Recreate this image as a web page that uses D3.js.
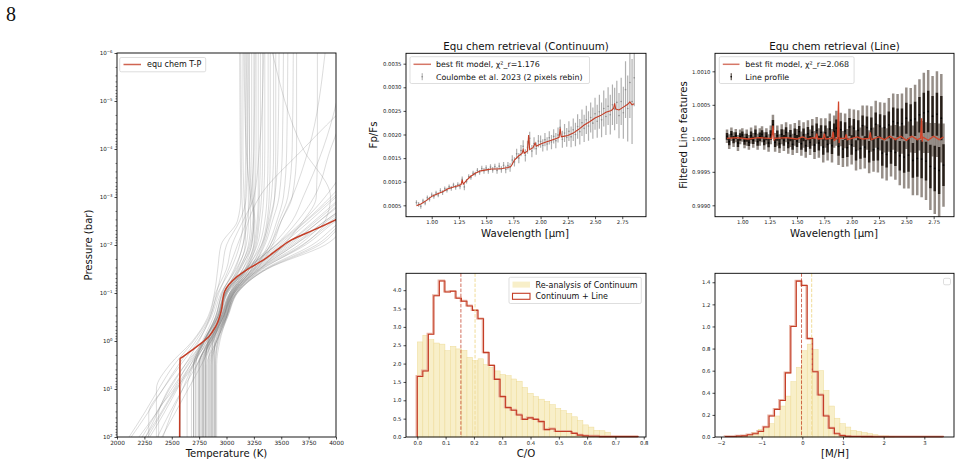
<!DOCTYPE html>
<html><head><meta charset="utf-8">
<script src="https://cdn.jsdelivr.net/npm/d3@7/dist/d3.min.js"></script>
<style>
body{margin:0;background:#fff;}
svg{display:block;}
</style></head><body>
<svg id="chart" width="961" height="466"></svg>
<script>
// ================= DATA =================
// T-P panel: sampled profiles, temperatures (K) at log10 pressure levels (bar)
const tpLogP = [-6,-4,-3,-2.5,-2,-1.5,-1,-0.5,0,0.5,1,1.5,2];
const tpSamples = [
 [3130,3135,3140,3150,3120,3040,2920,2850,2750,2620,2480,2360,2230],
 [3150,3150,3160,3170,3150,3070,2960,2900,2800,2700,2640,2640,2640],
 [3170,3175,3170,3175,3170,3100,2990,2940,2860,2780,2780,2780,2780],
 [3190,3190,3200,3200,3180,3090,2950,2880,2780,2670,2550,2430,2300],
 [3210,3210,3215,3220,3200,3120,3000,2950,2880,2830,2830,2830,2830],
 [3230,3230,3240,3250,3230,3150,3030,2980,2910,2860,2860,2860,2860],
 [3250,3250,3250,3240,3210,3110,2970,2900,2800,2720,2720,2720,2720],
 [3270,3270,3260,3250,3220,3130,2990,2920,2830,2750,2750,2750,2750],
 [3290,3290,3290,3280,3250,3170,3040,2980,2900,2880,2880,2880,2880],
 [3310,3310,3300,3290,3260,3180,3050,2990,2920,2900,2900,2900,2900],
 [3330,3330,3320,3300,3270,3190,3060,3000,2940,2910,2910,2910,2910],
 [3350,3350,3340,3320,3280,3170,3010,2940,2840,2800,2800,2800,2800],
 [3380,3380,3370,3350,3300,3190,3040,2970,2870,2810,2810,2810,2810],
 [3400,3400,3390,3370,3320,3210,3060,2990,2900,2840,2840,2840,2840],
 [3430,3430,3410,3380,3330,3210,3050,2970,2860,2770,2770,2770,2770],
 [3450,3450,3440,3400,3340,3230,3070,3000,2910,2870,2870,2870,2870],
 [3480,3470,3440,3390,3320,3180,3030,2960,2840,2730,2680,2680,2680],
 [3520,3510,3480,3420,3350,3230,3070,3000,2920,2890,2890,2890,2890],
 [3560,3550,3520,3460,3380,3250,3080,3000,2910,2850,2850,2850,2850],
 [3610,3600,3560,3480,3400,3260,3090,3010,2930,2900,2900,2900,2900],
 [3640,3640,3600,3500,3400,3240,3060,2970,2870,2790,2790,2790,2790],
 [3830,3830,3820,3700,3520,3310,3100,3010,2910,2820,2820,2820,2820],
 [3160,3180,3220,3250,3230,3120,2980,2910,2790,2620,2470,2370,2260],
 [3200,3210,3230,3260,3250,3150,3000,2930,2820,2690,2540,2410,2280],
 [3260,3250,3220,3180,3100,3020,2930,2860,2740,2580,2420,2280,2130],
 [3340,3300,3250,3150,3050,3000,2900,2840,2700,2520,2380,2250,2110],
 [3120,3125,3130,3100,2950,2920,2890,2830,2690,2480,2360,2360,2360],
 [3180,3190,3180,3120,3000,2960,2910,2850,2720,2560,2420,2290,2290],
 [5200,4900,4300,3950,3700,3330,3070,2970,2840,2700,2700,2700,2700],
 [5400,5000,4400,4050,3780,3350,3080,2980,2860,2760,2760,2760,2760],
 [5000,4700,4200,3900,3620,3290,3050,2950,2820,2700,2580,2580,2580],
 [5600,5200,4500,4100,3850,3370,3090,2990,2860,2740,2740,2740,2740],
 [4900,4600,4100,3850,3580,3270,3040,2950,2840,2730,2600,2480,2370],
 [5300,4900,4350,4000,3720,3320,3070,2970,2850,2780,2780,2780,2780],
 [4800,4500,4050,3800,3540,3240,3030,2950,2830,2810,2810,2810,2810],
 [5100,4800,4250,3920,3660,3300,3060,2960,2840,2840,2840,2840,2840],
 [4700,4450,4000,3760,3500,3220,3010,2930,2810,2670,2530,2400,2260],
 [5500,5100,4450,4080,3820,3360,3090,2990,2880,2860,2860,2860,2860],
 [4600,4400,3980,3730,3480,3200,3000,2920,2800,2650,2500,2360,2200],
 [5250,4850,4320,3980,3690,3310,3070,2980,2870,2870,2870,2870,2870],
 [4500,4300,3950,3720,3460,3190,2990,2920,2790,2640,2520,2380,2380],
 [5700,5300,4600,4150,3900,3370,3100,3000,2890,2890,2890,2890,2890],
 [4400,4250,4100,3850,3560,3260,3040,2960,2850,2790,2790,2790,2790],
 [4300,4200,4050,3820,3540,3250,3030,2950,2830,2810,2810,2810,2810],
 [4250,4150,3900,3700,3450,3180,2990,2920,2790,2720,2720,2720,2720],
 [5050,4750,4220,3900,3600,3280,3050,2960,2840,2750,2750,2750,2750],
 [4300,3950,3800,3650,3450,3190,3000,2920,2800,2700,2700,2700,2700],
 [4100,3880,3700,3600,3420,3170,2990,2910,2790,2690,2600,2500,2420],
 [4600,3700,3300,3200,3150,3080,2960,2900,2790,2700,2700,2700,2700],
 [3420,3700,3950,3900,3620,3300,3060,2970,2850,2750,2750,2750,2750],
 [3900,3750,3600,3500,3420,3280,3090,3000,2880,2770,2650,2530,2410]
];
const tpBestLogP = [-3,-2.53,-2.31,-2.1,-1.9,-1.69,-1.51,-1.34,-1.17,-1.03,-0.89,-0.71,-0.51,-0.3,-0.09,0.05,0.19,0.33,0.37,1,2];
const tpBestT    = [4400,4000,3793,3589,3461,3339,3202,3096,3020,2983,2968,2959,2938,2901,2837,2767,2685,2600,2576,2573,2572];
const tpXTicks = [2000,2250,2500,2750,3000,3250,3500,3750,4000];
const tpYTicks = [1e-6,1e-5,1e-4,1e-3,1e-2,1e-1,1,10,100];

// Continuum panel (Fp/Fs in units of 1e-4)
const contWave = [0.86,0.88,0.90,0.92,0.94,0.96,0.98,1.00,1.02,1.04,1.06,1.08,1.10,1.12,1.14,1.16,1.18,1.20,1.22,1.24,
 1.26,1.28,1.30,1.32,1.34,1.36,1.38,1.40,1.42,1.44,1.46,1.48,1.50,1.52,1.54,1.56,1.58,1.60,1.62,1.64,
 1.66,1.68,1.70,1.72,1.74,1.76,1.78,1.80,1.82,1.84,1.86,1.88,1.90,1.92,1.94,1.96,1.98,2.00,2.02,2.04,
 2.06,2.08,2.10,2.12,2.14,2.16,2.18,2.20,2.22,2.24,2.26,2.28,2.30,2.32,2.34,2.36,2.38,2.40,2.42,2.44,
 2.46,2.48,2.50,2.52,2.54,2.56,2.58,2.60,2.62,2.64,2.66,2.68,2.70,2.72,2.74,2.76,2.78,2.80,2.82,2.84,2.86];
const contFlux = [5.6,5.2,4.8,5.9,5.5,6.6,6.3,7.2,6.9,7.6,7.2,8.1,7.7,8.5,8.2,8.9,8.6,9.3,8.8,9.4,
 9.0,10.5,8.9,10.1,11.1,10.9,11.8,11.6,12.4,12.0,12.8,12.3,12.9,12.3,13.1,12.5,13.2,12.4,13.3,12.6,
 13.5,12.6,13.4,13.0,14.6,14.2,15.9,15.0,16.6,17.5,15.6,17.3,19.2,16.5,18.1,17.0,18.6,18.5,17.7,18.9,
 18.0,19.3,18.4,19.6,18.7,19.9,21.5,19.0,20.3,19.4,20.7,19.5,21.0,20.0,21.7,20.6,22.5,21.3,23.1,21.8,
 23.6,22.4,24.4,22.8,24.8,23.1,25.5,23.8,26.0,24.2,26.3,25.4,26.8,24.0,27.0,24.6,29.5,25.5,31.0,27.0,32.0];
const contErr = [0.5,0.5,0.5,0.5,0.5,0.5,0.5,0.5,0.5,0.5,0.5,0.5,0.5,0.5,0.5,0.5,0.5,0.5,0.5,0.5,
 0.6,0.6,0.7,0.5,0.5,0.5,0.5,0.5,0.5,0.5,0.6,0.6,0.6,0.6,0.6,0.6,0.6,0.7,0.7,0.7,
 0.7,0.8,0.8,0.9,1.0,1.0,1.1,1.1,1.2,1.3,1.3,1.4,1.4,1.3,1.3,1.3,1.3,1.3,1.3,1.4,
 1.4,1.4,1.5,1.5,1.6,1.6,1.7,1.8,1.9,2.0,2.1,2.2,2.4,2.5,2.6,2.7,2.8,2.9,3.0,3.1,
 3.2,3.3,3.4,3.5,3.6,3.7,3.8,3.9,4.0,4.2,4.3,4.5,4.6,4.8,5.0,5.5,6.0,7.0,7.5,9.0,6.0];
const contModelWave = [0.86,0.90,0.95,1.00,1.05,1.10,1.15,1.20,1.25,1.27,1.28,1.29,1.32,1.35,1.40,1.45,1.50,1.55,1.60,1.65,
 1.70,1.73,1.76,1.80,1.83,1.84,1.85,1.88,1.89,1.90,1.93,1.95,1.96,2.00,2.05,2.10,2.15,2.17,2.18,2.19,
 2.21,2.25,2.30,2.35,2.40,2.45,2.50,2.55,2.60,2.65,2.67,2.68,2.69,2.72,2.76,2.80,2.82,2.84,2.86];
const contModelFlux = [4.9,5.3,6.0,6.9,7.4,7.9,8.5,8.9,9.2,9.4,10.4,9.5,10.3,11.0,11.8,12.3,12.5,12.7,12.7,12.8,
 13.0,13.3,14.6,15.5,16.0,16.8,16.0,16.5,19.9,16.8,17.2,18.2,17.5,18.0,18.4,18.8,19.2,19.4,21.3,19.5,
 19.6,19.8,20.3,21.1,22.0,22.7,23.5,24.0,24.7,25.1,25.5,26.6,25.4,25.2,25.8,26.4,26.9,26.3,26.5];
const contXTicks = [1.00,1.25,1.50,1.75,2.00,2.25,2.50,2.75];
const contYTicks = [5,10,15,20,25,30,35];

// Line panel (filtered line features, residual from 1 in units of 1e-5)
const lineWave = [0.86,0.88,0.90,0.92,0.94,0.96,0.98,1.00,1.02,1.04,1.06,1.08,1.10,1.12,1.14,1.16,1.18,1.20,1.22,1.24,
 1.26,1.28,1.30,1.32,1.34,1.36,1.38,1.40,1.42,1.44,1.46,1.48,1.50,1.52,1.54,1.56,1.58,1.60,1.62,1.64,
 1.66,1.68,1.70,1.72,1.74,1.76,1.78,1.80,1.82,1.84,1.86,1.88,1.90,1.92,1.94,1.96,1.98,2.00,2.02,2.04,
 2.06,2.08,2.10,2.12,2.14,2.16,2.18,2.20,2.22,2.24,2.26,2.28,2.30,2.32,2.34,2.36,2.38,2.40,2.42,2.44,
 2.46,2.48,2.50,2.52,2.54,2.56,2.58,2.60,2.62,2.64,2.66,2.68,2.70,2.72,2.74,2.76,2.78,2.80,2.82,2.84];
const lineRes = [3,-5,6,-2,4,-7,2,5,-4,1, -6,4,-3,7,-5,2,6,-4,3,-7,
 5,20,-6,4,-8,6,-3,9,-7,4, -9,6,-4,10,-8,5,-11,7,-6,9,
 -10,12,-7,9,-13,8,-9,14,-11,10, 15,-12,13,-16,11,-14,17,-10,15,-18,
 12,-15,19,-13,16,-20,14,-17,21,-15, 18,-22,16,-24,20,-19,25,-21,23,-26,
 22,-28,30,-25,27,-33,29,-30,35,-31, 38,-34,40,-42,33,-45,36,-48,30,-40];
const lineErr = [10,11,10,11,10,12,11,10,11,12, 11,12,11,12,12,13,12,13,12,13,
 14,15,14,15,14,15,16,15,16,17, 16,17,18,17,18,19,18,20,19,20,
 21,20,22,21,23,22,24,23,25,24, 26,28,25,27,26,28,27,29,28,30,
 30,31,30,32,33,32,34,33,35,36, 36,38,37,39,40,38,42,41,43,44,
 45,47,46,50,48,52,51,55,53,57, 60,58,62,65,60,68,64,70,66,62];
const lineModelWave = [0.86,0.95,1.05,1.15,1.25,1.27,1.28,1.29,1.30,1.40,1.50,1.55,1.60,1.65,1.67,1.68,1.69,1.74,1.75,1.76,
 1.82,1.83,1.84,1.87,1.88,1.885,1.89,1.94,1.95,1.96,2.05,2.10,2.16,2.17,2.18,2.25,2.30,2.35,2.40,2.45,
 2.50,2.55,2.60,2.63,2.64,2.645,2.65,2.70,2.75,2.80,2.84];
const lineModelRes = [0,1,-1,1,0,0,19,-2,0,1,-1,2,-1,1,0,7,-1,0,7,-1,
 0,10,-3,0,55,-7,0,0,6,-2,2,-1,0,9,-2,2,-2,3,-2,3,
 -3,3,-2,0,30,-5,2,-3,3,-2,2];
const lineXTicks = [1.00,1.25,1.50,1.75,2.00,2.25,2.50,2.75];
const lineYTicks = [-100,-50,0,50,100];

// C/O histograms (density)
const coEdges = [0,0.0195,0.039,0.0585,0.078,0.0975,0.117,0.1365,0.156,0.1755,0.195,0.2145,0.234,0.2535,0.273,0.2925,0.312,0.3315,0.351,0.3705,
 0.39,0.4095,0.429,0.4485,0.468,0.4875,0.507,0.5265,0.546,0.5655,0.585,0.6045,0.624,0.6435,0.663,0.6825,0.702,0.7215,0.741,0.7605,0.78];
const coContinuum = [2.59,2.77,2.65,2.56,2.53,2.35,2.47,2.40,2.36,2.17,2.08,2.13,1.97,1.90,1.80,1.70,1.67,1.58,1.52,1.35,
 1.19,1.10,1.03,0.97,0.88,0.78,0.72,0.64,0.55,0.45,0.33,0.27,0.18,0.17,0.13,0.02,0,0,0,0];
const coLine = [1.65,1.80,2.80,3.85,4.25,3.95,3.97,3.78,3.70,3.57,3.45,3.22,2.30,1.95,1.57,1.10,0.80,0.73,0.60,0.48,
 0.52,0.48,0.42,0.20,0.22,0.15,0.15,0.15,0.10,0.05,0.03,0.02,0.02,0.01,0.01,0.01,0.01,0.01,0.01,0.01];
const coMedians = {line:0.154, continuum:0.204};
const coXTicks = [0,0.1,0.2,0.3,0.4,0.5,0.6,0.7,0.8];
const coYTicks = [0,0.5,1,1.5,2,2.5,3,3.5,4];

// [M/H] histograms (density)
const mhEdges = [-1.89,-1.756,-1.622,-1.488,-1.354,-1.22,-1.086,-0.952,-0.818,-0.684,-0.55,-0.416,-0.282,-0.148,-0.014,0.12,0.254,0.388,0.522,0.656,
 0.79,0.924,1.058,1.192,1.326,1.46,1.594,1.728,1.862,1.996,2.13,2.264,2.398,2.532,2.666,2.8,2.934,3.068,3.202,3.336,3.47];
const mhContinuum = [0,0,0.005,0.01,0.02,0.04,0.07,0.08,0.12,0.19,0.28,0.37,0.50,0.63,0.78,0.84,0.79,0.60,0.42,0.28,
 0.17,0.12,0.09,0.06,0.05,0.04,0.03,0.02,0.01,0.01,0.005,0,0,0,0,0,0,0,0,0];
const mhLine = [0.004,0.004,0.008,0.01,0.02,0.03,0.05,0.09,0.19,0.25,0.33,0.58,1.00,1.41,1.37,0.89,0.59,0.38,0.19,0.08,
 0.03,0.012,0.006,0.004,0.004,0.003,0.003,0.002,0.002,0.002,0.002,0.002,0.002,0.002,0.002,0.002,0.002,0.002,0.002,0.002];
const mhMedians = {line:-0.02, continuum:0.23};
const mhXTicks = [-2,-1,0,1,2,3];
const mhYTicks = [0,0.2,0.4,0.6,0.8,1.0,1.2,1.4];

// ================= DRAWING =================
const FONT = '"DejaVu Sans", Verdana, sans-serif';
const RED = '#c43d26';
const YEL = '#f8efc9';
const YEL_EDGE = '#eedb97';
const YEL_DASH = '#f1dc99';
const svg = d3.select('#chart');

svg.append('text').attr('x',6).attr('y',21).attr('font-family','"Liberation Serif", "DejaVu Serif", serif')
  .attr('font-size','20px').attr('fill','#111').text('8');

function frame(p){
  svg.append('rect').attr('x',p.x0).attr('y',p.y0).attr('width',p.x1-p.x0).attr('height',p.y1-p.y0)
    .attr('fill','none').attr('stroke','#000').attr('stroke-width',0.9);
}
function styleAxis(g, fs){
  g.select('.domain').remove();
  g.selectAll('.tick line').attr('stroke','#000').attr('stroke-width',0.7);
  g.selectAll('.tick text').attr('font-size',fs+'px').attr('fill','#222').attr('font-family',FONT);
}
function xAxis(p, x, ticks, fmt, fs){
  const g = svg.append('g').attr('transform',`translate(0,${p.y1})`)
    .call(d3.axisBottom(x).tickValues(ticks).tickFormat(fmt).tickSize(2.5).tickSizeOuter(0).tickPadding(1.5));
  styleAxis(g, fs); return g;
}
function yAxis(p, y, ticks, fmt, fs){
  const g = svg.append('g').attr('transform',`translate(${p.x0},0)`)
    .call(d3.axisLeft(y).tickValues(ticks).tickFormat(fmt).tickSize(2.5).tickSizeOuter(0).tickPadding(2));
  styleAxis(g, fs); return g;
}
function label(x, y, txt, fs, rot){
  const t = svg.append('text').attr('x',x).attr('y',y).attr('text-anchor','middle')
    .attr('font-family',FONT).attr('font-size',fs+'px').attr('fill','#111').text(txt);
  if(rot) t.attr('transform',`rotate(-90,${x},${y})`);
  return t;
}
function clip(id, p){
  svg.append('clipPath').attr('id',id).append('rect')
    .attr('x',p.x0).attr('y',p.y0).attr('width',p.x1-p.x0).attr('height',p.y1-p.y0);
}
const fmtMinus = d => (d<0?'\u2212':'') + Math.abs(d);

// ---------- Panel 1: T-P ----------
const pTP = {x0:117,x1:336,y0:53,y1:437};
const xT = d3.scaleLinear().domain([2000,4000]).range([pTP.x0,pTP.x1]);
const yP = d3.scaleLog().domain([1e-6,1e2]).range([pTP.y0,pTP.y1]);
clip('cTP', pTP);
const gTP = svg.append('g').attr('clip-path','url(#cTP)');
const lineTP = d3.line().x(d=>xT(d[1])).y(d=>yP(Math.pow(10,d[0]))).curve(d3.curveMonotoneY);
tpSamples.forEach(row=>{
  gTP.append('path').attr('d', lineTP(tpLogP.map((lp,i)=>[lp,row[i]])))
    .attr('fill','none').attr('stroke','#7f7f7f').attr('stroke-opacity',0.3).attr('stroke-width',0.9);
});
gTP.append('path').attr('d', lineTP(tpBestLogP.map((lp,i)=>[lp,tpBestT[i]])))
  .attr('fill','none').attr('stroke',RED).attr('stroke-width',1.5);
frame(pTP);
xAxis(pTP, xT, tpXTicks, d=>d, 5.8);
const gy = yAxis(pTP, yP, tpYTicks, d=>'', 5.6);
gy.selectAll('.tick text').each(function(d){
  const e = Math.round(Math.log10(d));
  const t = d3.select(this);
  t.text(null);
  t.append('tspan').text('10');
  t.append('tspan').attr('dy',-2.3).attr('font-size','3.9px').text(e<0?'\u2212'+(-e):String(e));
});
for(let k=-6;k<2;k++){ for(let m=2;m<10;m++){
  const v = m*Math.pow(10,k);
  svg.append('line').attr('x1',pTP.x0-1.5).attr('x2',pTP.x0).attr('y1',yP(v)).attr('y2',yP(v))
    .attr('stroke','#000').attr('stroke-width',0.5);
}}
label(92, 245, 'Pressure (bar)', 10.1, true);
label(226.5, 456.5, 'Temperature (K)', 10.1, false);
// legend
svg.append('rect').attr('x',119.7).attr('y',57.5).attr('width',86).attr('height',14.3).attr('rx',1.5)
  .attr('fill','#fff').attr('fill-opacity',0.85).attr('stroke','#d0d0d0').attr('stroke-width',0.7);
svg.append('line').attr('x1',123.5).attr('x2',141).attr('y1',64.5).attr('y2',64.5)
  .attr('stroke',RED).attr('stroke-opacity',0.8).attr('stroke-width',1.5);
svg.append('text').attr('x',147).attr('y',67.4).attr('font-family',FONT).attr('font-size','8px').attr('fill','#111').text('equ chem T-P');

// ---------- Panel 2: Continuum spectrum ----------
const pC = {x0:406,x1:646,y0:53.3,y1:216.7};
const xC = d3.scaleLinear().domain([0.764,2.968]).range([pC.x0,pC.x1]);
const yC = d3.scaleLinear().domain([2.59,37.2]).range([pC.y1,pC.y0]);
clip('cC', pC);
const gC = svg.append('g').attr('clip-path','url(#cC)');
contWave.forEach((w,i)=>{
  gC.append('line').attr('x1',xC(w)).attr('x2',xC(w))
    .attr('y1',yC(contFlux[i]-contErr[i])).attr('y2',yC(contFlux[i]+contErr[i]))
    .attr('stroke','#b0b0b0').attr('stroke-width',1.2);
});
contWave.forEach((w,i)=>{
  gC.append('circle').attr('cx',xC(w)).attr('cy',yC(contFlux[i])).attr('r',0.8).attr('fill','#8c8c8c');
});
gC.append('path').attr('d', d3.line().x((d,i)=>xC(contModelWave[i])).y(d=>yC(d))(contModelFlux))
  .attr('fill','none').attr('stroke',RED).attr('stroke-width',1.1);
frame(pC);
xAxis(pC, xC, contXTicks, d3.format('.2f'), 5.3);
yAxis(pC, yC, contYTicks, d=>(d*1e-4).toFixed(4), 5.3);
label(526, 49.5, 'Equ chem retrieval (Continuum)', 10.3, false);
label(525, 237, 'Wavelength [\u03bcm]', 10.2, false);
label(377, 135, 'Fp/Fs', 10.2, true);
svg.append('rect').attr('x',410).attr('y',56.7).attr('width',179.5).attr('height',26.8).attr('rx',1.5)
  .attr('fill','#fff').attr('fill-opacity',0.85).attr('stroke','#d0d0d0').attr('stroke-width',0.7);
svg.append('line').attr('x1',413.5).attr('x2',431).attr('y1',64.3).attr('y2',64.3)
  .attr('stroke',RED).attr('stroke-opacity',0.7).attr('stroke-width',1.5);
svg.append('text').attr('x',436).attr('y',67.2).attr('font-family',FONT).attr('font-size','7.9px').attr('fill','#111').text('best fit model, \u03c7\u00b2_r=1.176');
svg.append('line').attr('x1',422.2).attr('x2',422.2).attr('y1',73.2).attr('y2',80.2).attr('stroke','#a8a8a8').attr('stroke-width',1);
svg.append('circle').attr('cx',422.2).attr('cy',76.7).attr('r',0.8).attr('fill','#8c8c8c');
svg.append('text').attr('x',436).attr('y',79.6).attr('font-family',FONT).attr('font-size','7.9px').attr('fill','#111').text('Coulombe et al. 2023 (2 pixels rebin)');

// ---------- Panel 3: Line spectrum ----------
const pL = {x0:715,x1:954,y0:53.3,y1:216.7};
const xL = d3.scaleLinear().domain([0.750,2.936]).range([pL.x0,pL.x1]);
const yL = d3.scaleLinear().domain([-117,126.9]).range([pL.y1,pL.y0]);
clip('cL', pL);
const gL = svg.append('g').attr('clip-path','url(#cL)');
lineWave.forEach((w,i)=>{
  gL.append('line').attr('x1',xL(w)).attr('x2',xL(w))
    .attr('y1',yL(lineRes[i]-lineErr[i])).attr('y2',yL(lineRes[i]+lineErr[i]))
    .attr('stroke','#6a5e55').attr('stroke-opacity',0.7).attr('stroke-width',2.5);
});
lineWave.forEach((w,i)=>{
  gL.append('line').attr('x1',xL(w)).attr('x2',xL(w))
    .attr('y1',yL(lineRes[i]-lineErr[i]*0.5)).attr('y2',yL(lineRes[i]+lineErr[i]*0.5))
    .attr('stroke','#1a120c').attr('stroke-opacity',0.9).attr('stroke-width',2.4);
  gL.append('circle').attr('cx',xL(w)).attr('cy',yL(lineRes[i])).attr('r',0.9).attr('fill','#000');
});
gL.append('path').attr('d', d3.line().x((d,i)=>xL(lineModelWave[i])).y(d=>yL(d))(lineModelRes))
  .attr('fill','none').attr('stroke','#d2452a').attr('stroke-width',1.3);
frame(pL);
xAxis(pL, xL, lineXTicks, d3.format('.2f'), 5.3);
yAxis(pL, yL, lineYTicks, d=>(1+d*1e-5).toFixed(4), 5.3);
label(834.5, 49.5, 'Equ chem retrieval (Line)', 10.3, false);
label(834, 237, 'Wavelength [\u03bcm]', 10.2, false);
label(686.5, 135, 'Filtered Line features', 10.2, true);
svg.append('rect').attr('x',719.3).attr('y',56.7).attr('width',134.8).attr('height',26.8).attr('rx',1.5)
  .attr('fill','#fff').attr('fill-opacity',0.85).attr('stroke','#d0d0d0').attr('stroke-width',0.7);
svg.append('line').attr('x1',722.8).attr('x2',739.5).attr('y1',64.3).attr('y2',64.3)
  .attr('stroke',RED).attr('stroke-opacity',0.7).attr('stroke-width',1.5);
svg.append('text').attr('x',745.3).attr('y',67.2).attr('font-family',FONT).attr('font-size','7.9px').attr('fill','#111').text('best fit model, \u03c7\u00b2_r=2.068');
svg.append('line').attr('x1',731.2).attr('x2',731.2).attr('y1',73.2).attr('y2',80.2).attr('stroke','#3a2e25').attr('stroke-width',1);
svg.append('circle').attr('cx',731.2).attr('cy',76.7).attr('r',0.8).attr('fill','#000');
svg.append('text').attr('x',745.3).attr('y',79.6).attr('font-family',FONT).attr('font-size','7.9px').attr('fill','#111').text('Line profile');

// ---------- histogram helper ----------
function histPanel(p, x, y, edges, fillVals, stepVals, med){
  const g = svg.append('g');
  fillVals.forEach((v,i)=>{
    if(v<=0) return;
    g.append('rect').attr('x',x(edges[i])).attr('width',x(edges[i+1])-x(edges[i]))
      .attr('y',y(v)).attr('height',y(0)-y(v))
      .attr('fill',YEL).attr('stroke',YEL_EDGE).attr('stroke-width',0.5);
  });
  const pts = [[edges[0],0]];
  stepVals.forEach((v,i)=>{ pts.push([edges[i],v]); pts.push([edges[i+1],v]); });
  pts.push([edges[edges.length-1],0]);
  const ln = d3.line().x(d=>x(d[0])).y(d=>y(d[1]));
  g.append('path').attr('d',ln(pts)).attr('transform','translate(-0.8,-0.4)')
    .attr('fill','none').attr('stroke','#e3a190').attr('stroke-width',2).attr('stroke-opacity',0.8);
  g.append('path').attr('d',ln(pts)).attr('fill','none').attr('stroke',RED).attr('stroke-width',1.1);
  g.append('line').attr('x1',x(med.line)).attr('x2',x(med.line)).attr('y1',p.y0).attr('y2',p.y1)
    .attr('stroke',RED).attr('stroke-opacity',0.75).attr('stroke-width',1).attr('stroke-dasharray','3.5,1.6');
  g.append('line').attr('x1',x(med.continuum)).attr('x2',x(med.continuum)).attr('y1',p.y0).attr('y2',p.y1)
    .attr('stroke',YEL_DASH).attr('stroke-width',1).attr('stroke-dasharray','3.5,1.6');
  frame(p);
}

// ---------- Panel 4: C/O ----------
const pCO = {x0:406,x1:646,y0:273.3,y1:437};
const xCO = d3.scaleLinear().domain([-0.040,0.808]).range([pCO.x0,pCO.x1]);
const yCO = d3.scaleLinear().domain([0,4.46]).range([pCO.y1,pCO.y0]);
histPanel(pCO, xCO, yCO, coEdges, coContinuum, coLine, coMedians);
xAxis(pCO, xCO, coXTicks, d3.format('.1f'), 5.3);
yAxis(pCO, yCO, coYTicks, d3.format('.1f'), 5.3);
label(526, 457, 'C/O', 10.2, false);
svg.append('rect').attr('x',509).attr('y',277.3).attr('width',132.3).attr('height',26.2).attr('rx',1.5)
  .attr('fill','#fff').attr('fill-opacity',0.85).attr('stroke','#d0d0d0').attr('stroke-width',0.7);
svg.append('rect').attr('x',512.5).attr('y',281.6).attr('width',17.5).attr('height',6).attr('fill',YEL);
svg.append('rect').attr('x',512.5).attr('y',293.3).attr('width',17.5).attr('height',6)
  .attr('fill','none').attr('stroke',RED).attr('stroke-width',1.1);
svg.append('text').attr('x',535.5).attr('y',287.6).attr('font-family',FONT).attr('font-size','8px').attr('fill','#111').text('Re-analysis of Continuum');
svg.append('text').attr('x',535.5).attr('y',299.3).attr('font-family',FONT).attr('font-size','8px').attr('fill','#111').text('Continuum + Line');

// ---------- Panel 5: [M/H] ----------
const pMH = {x0:715,x1:954,y0:273.3,y1:437};
const xMH = d3.scaleLinear().domain([-2.148,3.73]).range([pMH.x0,pMH.x1]);
const yMH = d3.scaleLinear().domain([0,1.481]).range([pMH.y1,pMH.y0]);
histPanel(pMH, xMH, yMH, mhEdges, mhContinuum, mhLine, mhMedians);
xAxis(pMH, xMH, mhXTicks, fmtMinus, 5.3);
yAxis(pMH, yMH, mhYTicks, d3.format('.1f'), 5.3);
label(835, 457, '[M/H]', 10.2, false);
svg.append('rect').attr('x',943.5).attr('y',278.3).attr('width',7).attr('height',6.5).attr('rx',1.5)
  .attr('fill','#fff').attr('stroke','#d0d0d0').attr('stroke-width',0.7);
</script>
</body></html>
